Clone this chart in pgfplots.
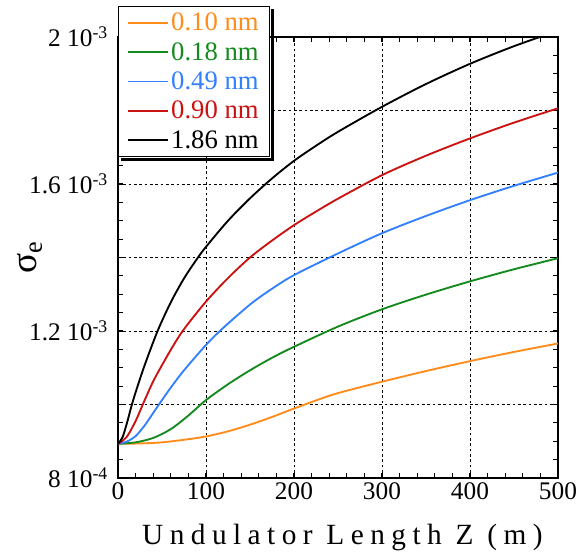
\documentclass[border=0pt]{standalone}
\usepackage{fontspec}
\setmainfont{Liberation Serif}
\newfontfamily\spaced[LetterSpace=22]{Liberation Serif}
\usepackage{pgfplots}
\pgfplotsset{compat=1.18}
\usetikzlibrary{calc}

\definecolor{corange}{RGB}{255,140,26}
\definecolor{cgreen}{RGB}{20,138,30}
\definecolor{cblue}{RGB}{51,128,255}
\definecolor{cred}{RGB}{204,17,17}

\begin{document}
\begin{tikzpicture}
\begin{axis}[
    scale only axis,
    width=330pt, height=330.75pt,
    xmin=0, xmax=500,
    ymin=0.8, ymax=2.0,
    xtick={0,100,200,300,400,500},
    xticklabels={0,100,200,300,400,500},
    minor x tick num=4,
    ytick={0.8,1.0,1.2,1.4,1.6,1.8,2.0},
    yticklabels={8 10\textsuperscript{-4},,1.2 10\textsuperscript{-3},,1.6 10\textsuperscript{-3},,2 10\textsuperscript{-3}},
    minor y tick num=3,
    grid=major,
    major grid style={black, line width=0.6pt, dash pattern=on 2pt off 2pt},
    tick align=inside,
    major tick length=4pt, minor tick length=4pt,
    every tick/.style={black, line width=0.8pt},
    axis line style={line width=1.5pt},
    tick label style={font=\fontsize{19}{19}\selectfont},
    yticklabel style={xshift=-4pt},
    xlabel={\spaced Undulator Length Z (m)},
    xlabel style={font=\fontsize{22}{22}\selectfont, at={(axis description cs:0.51,-0.136)}, anchor=center},
    ylabel={σ\textsubscript{e}},
    ylabel style={font=\fontsize{28}{28}\selectfont, at={(axis description cs:-0.20,0.5)}, anchor=center},
    legend style={name=leg, at={(axis description cs:0,1.071)}, anchor=north west,
        draw=black, line width=1pt, fill=white,
        font=\fontsize{20}{22}\selectfont,
        inner xsep=6pt, inner ysep=3pt, row sep=3.2pt},
    legend cell align=left,
    legend image code/.code={\draw[#1, line width=1.4pt] (0pt,0pt) -- (30pt,0pt);},
]

\addplot[color=corange, line width=1.4pt, smooth] coordinates {
    (0,0.893) (25,0.894) (50,0.897) (75,0.904) (100,0.913) (125,0.927)
    (150,0.945) (175,0.966) (200,0.989) (225,1.011) (250,1.031) (300,1.062)
    (350,1.091) (400,1.118) (450,1.143) (500,1.166)
};
\addlegendentry{\textcolor{corange}{0.10 nm}}

\addplot[color=cgreen, line width=1.4pt, smooth] coordinates {
    (0,0.893) (20,0.897) (40,0.909) (60,0.933) (80,0.970) (100,1.012)
    (125,1.055) (150,1.093) (175,1.127) (200,1.157) (250,1.212)
    (300,1.259) (350,1.299) (400,1.335) (450,1.368) (500,1.398)
};
\addlegendentry{\textcolor{cgreen}{0.18 nm}}

\addplot[color=cblue, line width=1.4pt, smooth] coordinates {
    (0,0.893) (10,0.899) (20,0.914) (30,0.942) (40,0.977) (50,1.012)
    (60,1.046) (75,1.093) (100,1.162) (118,1.205) (150,1.272)
    (175,1.315) (200,1.352) (250,1.411) (300,1.466) (350,1.513)
    (400,1.556) (450,1.595) (500,1.631)
};
\addlegendentry{\textcolor{cblue}{0.49 nm}}

\addplot[color=cred, line width=1.4pt, smooth] coordinates {
    (0,0.893) (10,0.912) (20,0.955) (30,1.010) (40,1.063) (50,1.107)
    (62,1.157) (75,1.205) (100,1.280) (125,1.344) (150,1.400)
    (175,1.446) (200,1.488) (225,1.525) (250,1.560) (300,1.624) (350,1.677)
    (400,1.724) (450,1.767) (500,1.806)
};
\addlegendentry{\textcolor{cred}{0.90 nm}}

\addplot[color=black, line width=1.4pt, smooth] coordinates {
    (0,0.893) (5,0.910) (10,0.948) (15,0.993) (20,1.033) (30,1.105)
    (45,1.200) (60,1.278) (75,1.343) (90,1.397) (100,1.429)
    (125,1.500) (150,1.561) (175,1.615) (200,1.663) (225,1.704) (250,1.742)
    (300,1.810) (350,1.872) (400,1.927) (450,1.975) (500,2.017)
};
\addlegendentry{1.86 nm}

\end{axis}
% drop shadow of the legend box
\fill[black] ($(leg.north east)+(0.5pt,-2.5pt)$) rectangle ($(leg.south east)+(3pt,-3pt)$);
\fill[black] ($(leg.south west)+(2.5pt,-0.5pt)$) rectangle ($(leg.south east)+(3pt,-3pt)$);
\pgfresetboundingbox
\path (-88.5pt,-58.5pt) rectangle (351.75pt,358.5pt);
\end{tikzpicture}
\end{document}
